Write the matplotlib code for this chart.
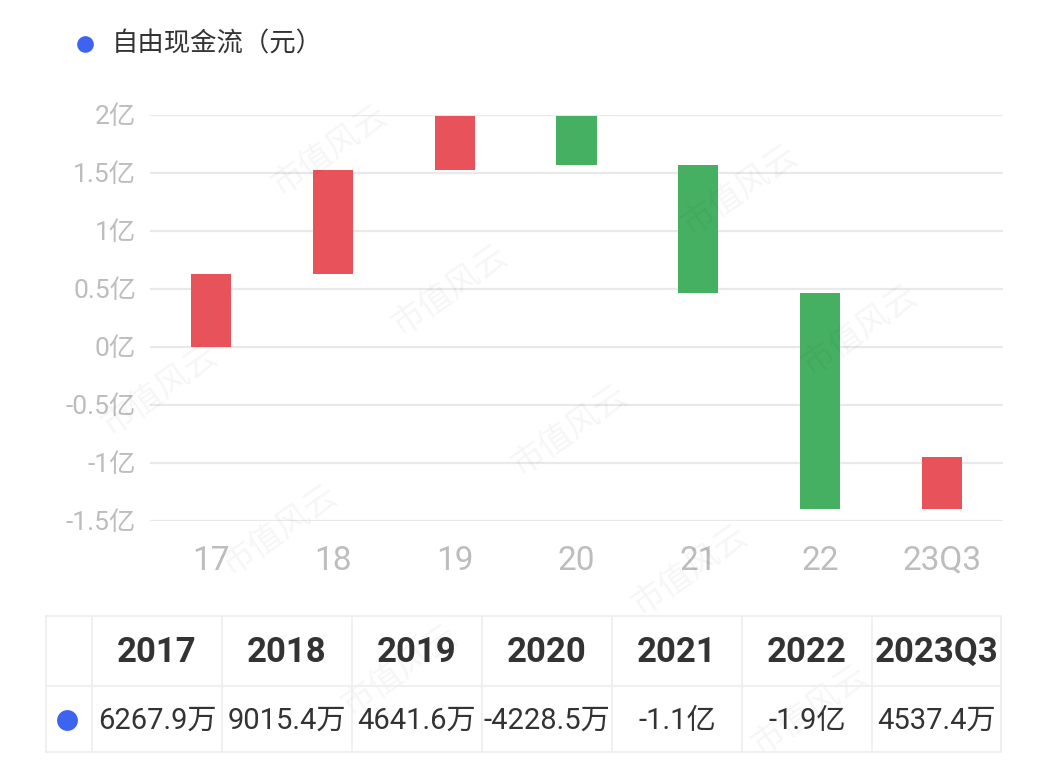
import matplotlib
matplotlib.use("Agg")
import matplotlib.pyplot as plt
import numpy as np
from matplotlib.lines import Line2D

plt.rcParams['font.family'] = ['Roboto', 'Noto Sans CJK SC', 'DejaVu Sans']

# ---- data ----
categories = ["17", "18", "19", "20", "21", "22", "23Q3"]
years = ["2017", "2018", "2019", "2020", "2021", "2022", "2023Q3"]
values_yi = [0.62679, 0.90154, 0.46416, -0.42285, -1.10, -1.87, 0.45374]  # 亿
value_labels = ["6267.9万", "9015.4万", "4641.6万", "-4228.5万", "-1.1亿", "-1.9亿", "4537.4万"]
ytick_vals = [-1.5, -1.0, -0.5, 0, 0.5, 1.0, 1.5, 2.0]
ytick_labels = ["-1.5亿", "-1亿", "-0.5亿", "0亿", "0.5亿", "1亿", "1.5亿", "2亿"]
legend_label = "自由现金流（元）"

RED = "#E8525A"
GREEN = "#46B062"
BLUE = "#3D63F0"

W, H = 1051, 773
fig = plt.figure(figsize=(W / 100, H / 100), dpi=100)

def fx(px):
    return px / W

def fy(py):
    return 1 - py / H

# watermark (decorative), only where it fits fully inside the picture
for row in range(-3, 10):
    for col in range(-3, 10):
        x = 40 + col * 290 + row * 120
        y = 250 + row * 140 - col * 100
        if 75 < x < W - 75 and 60 < y < H - 60:
            fig.text(fx(x), fy(y), "市值风云", rotation=35, fontsize=24,
                     color="#000000", alpha=0.04, ha="center", va="center",
                     family=['Noto Sans CJK SC'], zorder=0)

ax = fig.add_axes([fx(150), fy(521), fx(1003) - fx(150), fy(115) - fy(521)])
ax.set_facecolor("none")

cum = np.cumsum(values_yi)
starts = np.concatenate([[0], cum[:-1]])
x = np.arange(len(categories))
colors = [RED if v >= 0 else GREEN for v in values_yi]
ax.bar(x, values_yi, bottom=starts, width=0.33, color=colors, zorder=3)

ax.set_ylim(-1.5, 2.0)
ax.set_xlim(-0.5, len(categories) - 0.5)
ax.set_yticks(ytick_vals)
ax.set_yticklabels(ytick_labels, family=['Roboto', 'Noto Sans CJK SC'])
ax.set_xticks(x)
ax.set_xticklabels(categories)
for s in ax.spines.values():
    s.set_visible(False)
ax.grid(axis="y", color="#E9E9E9", linewidth=1.6, zorder=0)
ax.tick_params(axis="y", length=0, pad=10, labelsize=19, labelcolor="#BDBDBD")
ax.tick_params(axis="x", length=0, pad=17, labelsize=24, labelcolor="#BDBDBD")

# legend
fig.add_artist(Line2D([fx(85)], [fy(44)], marker="o", markersize=12, color=BLUE,
                      markeredgewidth=0, linestyle="none"))
fig.text(fx(112), fy(44), legend_label, fontsize=19, color="#333333",
         va="center", ha="left", family=['Noto Sans CJK SC'])

# table
line_c = "#EEEEEE"
t_top, t_mid, t_bot = 616, 686, 752
t_left, t_right = 46, 1001
col_edges = [92, 222, 352, 482, 612, 742, 872, 1001]
for yy in [t_top, t_mid, t_bot]:
    fig.add_artist(Line2D([fx(t_left), fx(t_right)], [fy(yy), fy(yy)], color=line_c, lw=1.2))
for xx in [t_left] + col_edges:
    fig.add_artist(Line2D([fx(xx), fx(xx)], [fy(t_top), fy(t_bot)], color=line_c, lw=1.2))

for i, (yr, lab) in enumerate(zip(years, value_labels)):
    cx = (col_edges[i] + col_edges[i + 1]) / 2
    fig.text(fx(cx), fy(652), yr, fontsize=25, fontweight="bold", color="#333333",
             ha="center", va="center")
    fig.text(fx(cx), fy(721), lab, fontsize=21, color="#333333",
             ha="center", va="center", family=['Roboto', 'Noto Sans CJK SC'])

fig.add_artist(Line2D([fx(67)], [fy(720)], marker="o", markersize=15, color=BLUE,
                      markeredgewidth=0, linestyle="none"))

fig.savefig("out.png", dpi=100)
